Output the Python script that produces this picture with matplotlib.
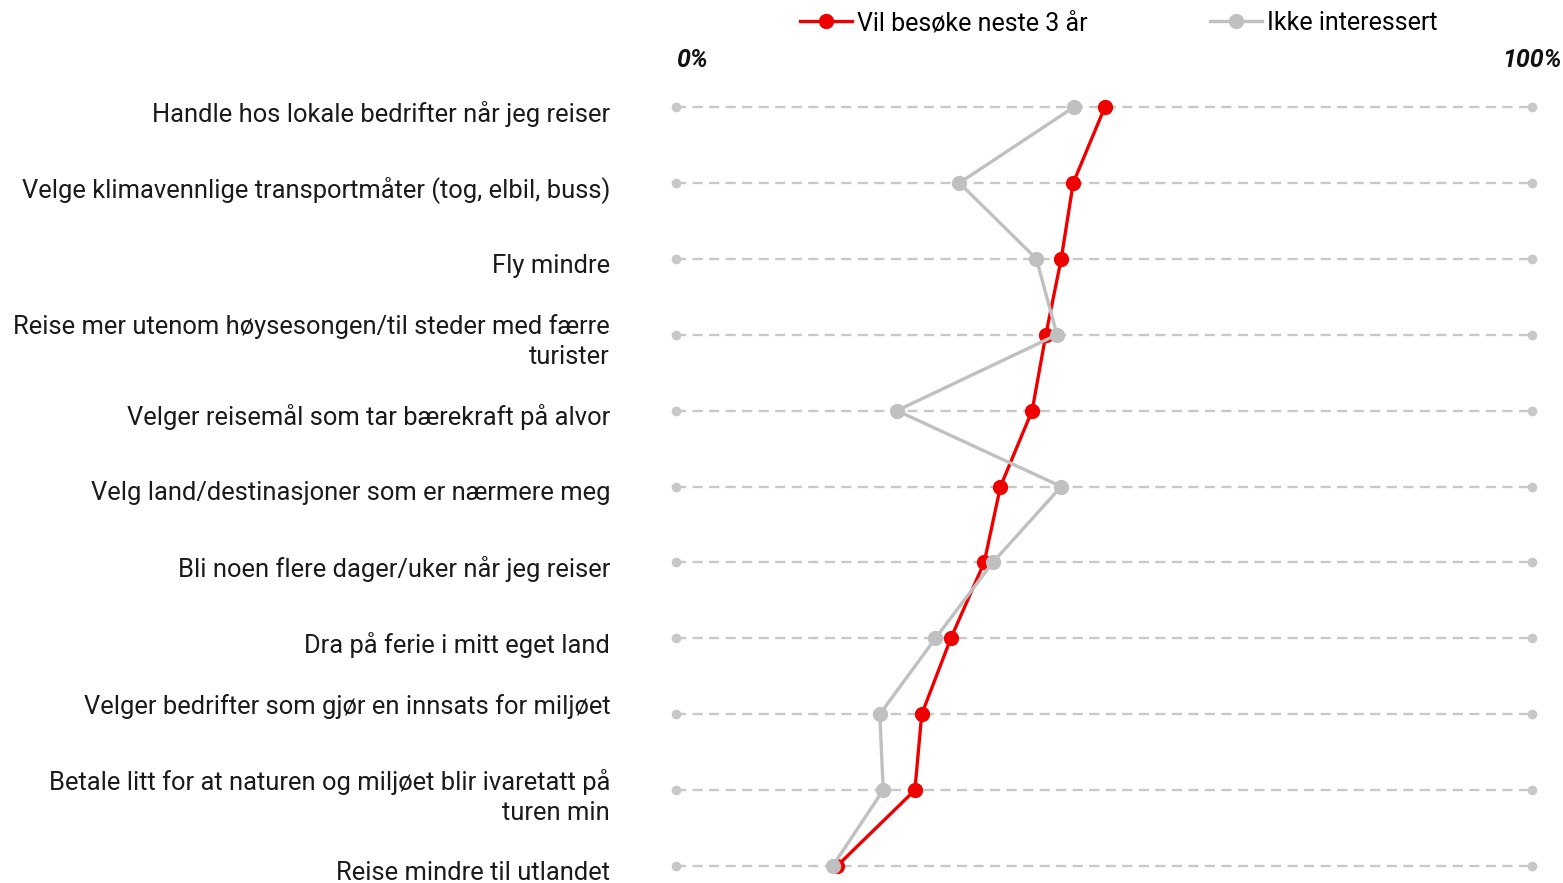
import matplotlib.pyplot as plt
from matplotlib.lines import Line2D

plt.rcParams['font.family'] = ['Roboto', 'DejaVu Sans']

categories = [
    'Handle hos lokale bedrifter når jeg reiser',
    'Velge klimavennlige transportmåter (tog, elbil, buss)',
    'Fly mindre',
    'Reise mer utenom høysesongen/til steder med færre\nturister',
    'Velger reisemål som tar bærekraft på alvor',
    'Velg land/destinasjoner som er nærmere meg',
    'Bli noen flere dager/uker når jeg reiser',
    'Dra på ferie i mitt eget land',
    'Velger bedrifter som gjør en innsats for miljøet\n ',
    'Betale litt for at naturen og miljøet blir ivaretatt på\nturen min',
    'Reise mindre til utlandet',
]
vil_besoke = [50.1, 46.4, 45.0, 43.2, 41.6, 37.9, 36.0, 32.1, 28.7, 27.9, 18.8]
ikke_interessert = [46.5, 33.1, 42.1, 44.5, 25.8, 45.0, 37.0, 30.3, 23.8, 24.2, 18.3]

RED = '#ee0000'
GREY = '#c0c0c0'
FS = 18.4

fig = plt.figure(figsize=(15.63, 8.83), dpi=100)
ax = fig.add_axes([0.4216, 0.002, 0.9911 - 0.4216, 0.9304 - 0.002])

rows = list(range(len(categories)))

for r in rows:
    ax.plot([0, 100], [r, r], color='#c8c8c8', lw=1.7, linestyle=(0, (4.3, 2.7)),
            zorder=1, clip_on=False)
    ax.plot([0, 100], [r, r], 'o', color='#c8c8c8', markersize=6, zorder=1, clip_on=False)

ax.plot(vil_besoke, rows, color=RED, lw=2.4, marker='o', markersize=10,
        zorder=3, clip_on=False)
ax.plot(ikke_interessert, rows, color=GREY, lw=2.4, marker='o', markersize=10,
        zorder=4, clip_on=False)

ax.set_xlim(-2, 102)
ax.set_ylim(10.2, -0.6)
ax.set_xticks([])
ax.set_yticks([])
for s in ax.spines.values():
    s.set_visible(False)

# category labels, right aligned left of the 0% end
for r, cat in zip(rows, categories):
    ax.text(-7.7, r + 0.09, cat, fontsize=FS, color='#1a1a1a', ha='right',
            va='center', linespacing=1.27, clip_on=False)

ax.text(0, -0.62, '0%', fontsize=18, fontweight='bold', style='italic',
        ha='left', va='center', color='#111111')
ax.text(100, -0.62, '100%', fontsize=18, fontweight='bold', style='italic',
        ha='center', va='center', color='#111111')

handles = [
    Line2D([], [], color=RED, lw=2.4, marker='o', markersize=10),
    Line2D([], [], color=GREY, lw=2.4, marker='o', markersize=10),
]
fig.legend(handles, ['Vil besøke neste 3 år', 'Ikke interessert'],
           loc='upper left', bbox_to_anchor=(800 / 1563, 1 - 11 / 883),
           ncol=2, frameon=False, fontsize=18, borderpad=0, borderaxespad=0,
           handlelength=2.08, handletextpad=0.2, columnspacing=4.9)

fig.savefig('out.png', dpi=100)
